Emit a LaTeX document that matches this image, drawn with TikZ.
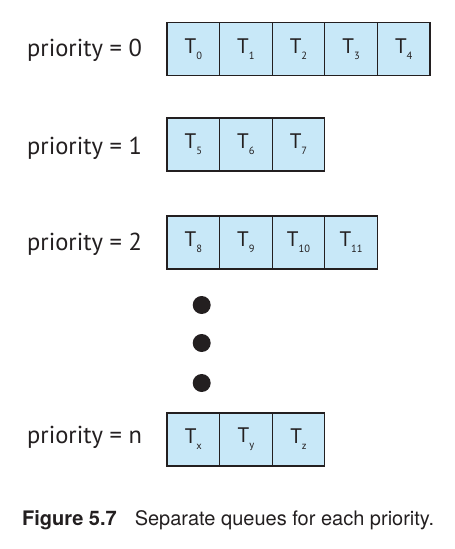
\documentclass[tikz,border=0pt]{standalone}
\usepackage{fontspec}
\setmainfont{PT Sans}
\newfontfamily\capfont{TeX Gyre Heros}
\definecolor{qfill}{RGB}{200,232,248}
\definecolor{qline}{RGB}{35,31,32}
\newcommand{\tsub}[2]{\fontsize{21}{21}\selectfont #1\raisebox{-6pt}{\fontsize{10.5}{10.5}\selectfont #2}}
\tikzset{
  cell/.style={rectangle, draw=qline, fill=qfill, line width=1.3pt,
    minimum width=52.6pt, minimum height=53pt, inner sep=0pt, outer sep=0pt,
    text=qline},
  plabel/.style={anchor=base west, inner sep=0pt, text=qline,
    font=\fontsize{24.5}{24.5}\selectfont},
  bigdot/.style={circle, fill=qline, minimum size=18pt, inner sep=0pt}
}
\begin{document}
\begin{tikzpicture}[x=1pt,y=-1pt]
\useasboundingbox (0,0) rectangle (455,549);
% row 0
\node[plabel] (l0) at (27,56.7) {priority = 0};
\node[cell] (a0) at (193.3,49) {\tsub{T}{0}};
\node[cell, anchor=west] (a1) at (a0.east) {\tsub{T}{1}};
\node[cell, anchor=west] (a2) at (a1.east) {\tsub{T}{2}};
\node[cell, anchor=west] (a3) at (a2.east) {\tsub{T}{3}};
\node[cell, anchor=west] (a4) at (a3.east) {\tsub{T}{4}};
% row 1
\node[plabel] (l1) at (27,154) {priority = 1};
\node[cell] (b0) at (193.3,144.5) {\tsub{T}{5}};
\node[cell, anchor=west] (b1) at (b0.east) {\tsub{T}{6}};
\node[cell, anchor=west] (b2) at (b1.east) {\tsub{T}{7}};
% row 2
\node[plabel] (l2) at (27,250) {priority = 2};
\node[cell] (c0) at (193.3,242.5) {\tsub{T}{8}};
\node[cell, anchor=west] (c1) at (c0.east) {\tsub{T}{9}};
\node[cell, anchor=west] (c2) at (c1.east) {\tsub{T}{10}};
\node[cell, anchor=west] (c3) at (c2.east) {\tsub{T}{11}};
% dots
\node[bigdot] (d1) at (201.7,305) {};
\node[bigdot] (d2) at (201.7,343) {};
\node[bigdot] (d3) at (201.7,383) {};
% row n
\node[plabel] (ln) at (27,443) {priority = n};
\node[cell] (n0) at (193.3,439.5) {\tsub{T}{x}};
\node[cell, anchor=west] (n1) at (n0.east) {\tsub{T}{y}};
\node[cell, anchor=west] (n2) at (n1.east) {\tsub{T}{z}};
% caption
\node[anchor=base west, inner sep=0pt, text=qline, font=\capfont\fontsize{20}{20}\selectfont] (cap) at (22,525)
  {\textbf{Figure 5.7}\hspace{18pt}Separate queues for each priority.};
\end{tikzpicture}
\end{document}
